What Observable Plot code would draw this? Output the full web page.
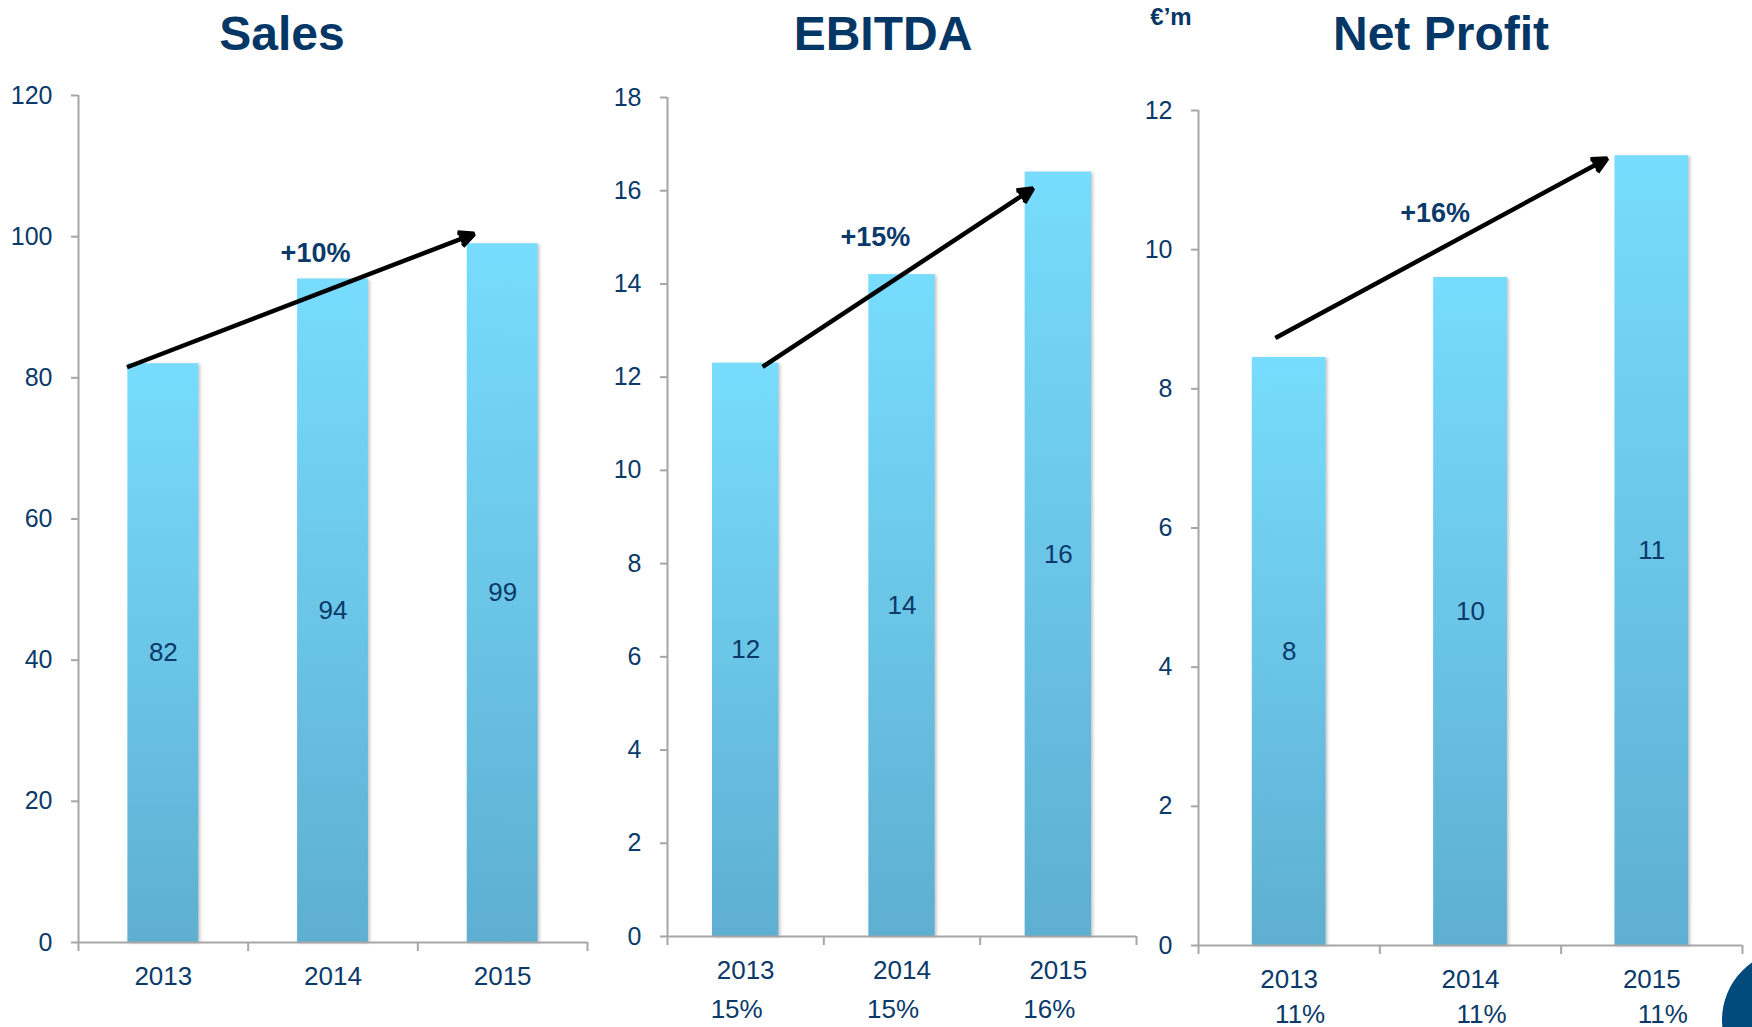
<!DOCTYPE html>
<html>
<head>
<meta charset="utf-8">
<script src="https://cdn.jsdelivr.net/npm/d3@7"></script>
<script src="https://cdn.jsdelivr.net/npm/@observablehq/plot@0.6"></script>
<style>
  html, body { margin: 0; padding: 0; background: #ffffff; }
  body { width: 1752px; height: 1027px; position: relative; overflow: hidden;
         font-family: "Liberation Sans", Arial, sans-serif; }
  .title { position: absolute; font-weight: bold; font-size: 48px; color: #053766;
           transform: translate(-50%, -50%); white-space: nowrap; line-height: 1; }
  .unit { position: absolute; font-weight: bold; font-size: 24px; color: #053766;
          transform: translate(-50%, -50%); white-space: nowrap; line-height: 1; }
  .panel { position: absolute; }
  .panel svg { overflow: visible; background: transparent; max-width: none; }
  .panel g[aria-label="y-axis tick"], .panel g[aria-label="x-axis tick"] { stroke: #a6a6a6; }
  .panel g[aria-label="rect"] rect { filter: drop-shadow(2px 1px 1.5px rgba(0,0,0,0.22)); }
  .logo { position: absolute; left: 1722px; top: 950px; width: 140px; height: 140px;
          border-radius: 50%; background: #034a7c; }
</style>
</head>
<body>
<div id="root"></div>
<script>
// ---------- data ----------
const years = ["2013", "2014", "2015"];
const titles = ["Sales", "EBITDA", "Net Profit"];
const unitLabel = "€’m";

const salesValues = [82, 94, 99];
const ebitdaValues = [12.3, 14.2, 16.4];
const netProfitValues = [8.45, 9.6, 11.35];

const ebitdaMargins = ["15%", "15%", "16%"];
const netProfitMargins = ["11%", "11%", "11%"];

const salesTicks = [0, 20, 40, 60, 80, 100, 120];
const ebitdaTicks = [0, 2, 4, 6, 8, 10, 12, 14, 16, 18];
const netProfitTicks = [0, 2, 4, 6, 8, 10, 12];

const growthLabels = ["+10%", "+15%", "+16%"];
// growth arrows: start/end as (position along year axis, value)
const salesArrow = { x1: 0.286, y1: 81.5, x2: 2.332, y2: 100.4 };
const ebitdaArrow = { x1: 0.608, y1: 12.22, x2: 2.338, y2: 16.05 };
const netProfitArrow = { x1: 0.424, y1: 8.73, x2: 2.254, y2: 11.31 };
// growth label anchors (position along year axis, value)
const salesGrowthAt = { x: 1.397, y: 97.7 };
const ebitdaGrowthAt = { x: 1.330, y: 15.0 };
const netProfitGrowthAt = { x: 1.305, y: 10.52 };

// ---------- styles / layout ----------
const NAVY = "#0b3a6a";
const GRAY = "#a6a6a6";
const FONT = "'Liberation Sans', Arial, sans-serif";

function makePanel(cfg) {
  const rows = years.map((year, i) => ({ i, year, value: cfg.values[i], margin: cfg.margins ? cfg.margins[i] : null }));
  const bounds = d3.range(years.length + 1);
  const marks = [
    Plot.rectY(rows, {
      x1: d => d.i, x2: d => d.i + 1, y: "value",
      insetLeft: cfg.inset, insetRight: cfg.inset,
      fill: `url(#${cfg.gradId})`
    }),
    Plot.ruleX([0], { stroke: GRAY, strokeWidth: 2 }),
    Plot.ruleY([0], { stroke: GRAY, strokeWidth: 2 }),
    Plot.axisY(cfg.ticks, { tickSize: 7, tickPadding: 19, fontSize: 25, color: NAVY, strokeWidth: 2,
                            tickFormat: d => String(d) }),
    Plot.axisX(bounds, { tickSize: 9, tickFormat: () => "", color: GRAY, strokeWidth: 2 }),
    Plot.text(rows, {
      x: d => d.i + 0.5, y: d => d.value / 2, text: d => String(Math.round(d.value)),
      fontSize: 26, fill: NAVY
    }),
    Plot.text(rows, {
      x: d => d.i + 0.5, frameAnchor: "bottom", lineAnchor: "middle", dy: cfg.yearDy, text: "year",
      fontSize: 26, fill: NAVY
    })
  ];
  if (cfg.margins) {
    marks.push(Plot.text(rows, {
      x: d => d.i + 0.5, frameAnchor: "bottom", lineAnchor: "middle", dy: cfg.pctDy, dx: cfg.pctDx,
      text: "margin", fontSize: 26, fill: NAVY
    }));
  }
  marks.push(
    Plot.arrow([cfg.arrow], {
      x1: "x1", y1: "y1", x2: "x2", y2: "y2",
      stroke: "black", strokeWidth: 4.5, headLength: 5.6, headAngle: 52,
      strokeLinecap: "butt", strokeLinejoin: "miter"
    }),
    Plot.text([{ ...cfg.growthAt, label: cfg.growth }], {
      x: "x", y: "y", text: "label", fontSize: 27, fontWeight: "bold", fill: NAVY
    })
  );

  const svg = Plot.plot({
    width: cfg.width, height: cfg.height,
    marginLeft: 80, marginRight: 10, marginTop: 20, marginBottom: 85,
    x: { domain: [0, years.length] },
    y: { domain: [0, cfg.ticks[cfg.ticks.length - 1]] },
    style: { background: "transparent", overflow: "visible", fontFamily: FONT },
    marks
  });

  const defs = document.createElementNS("http://www.w3.org/2000/svg", "defs");
  defs.innerHTML = `<linearGradient id="${cfg.gradId}" x1="0" y1="0" x2="0" y2="1">
      <stop offset="0" stop-color="#77dcfd"/><stop offset="1" stop-color="#5eafd1"/></linearGradient>`;
  svg.insertBefore(defs, svg.firstChild);
  svg.querySelectorAll('g[aria-label="arrow"] path').forEach(p => p.setAttribute("fill", "black"));

  const wrap = document.createElement("div");
  wrap.className = "panel";
  wrap.style.left = cfg.left + "px";
  wrap.style.top = cfg.top + "px";
  wrap.appendChild(svg);
  document.getElementById("root").appendChild(wrap);
}

function addText(cls, text, x, y) {
  const d = document.createElement("div");
  d.className = cls;
  d.textContent = text;
  d.style.left = x + "px";
  d.style.top = y + "px";
  document.body.appendChild(d);
}

makePanel({
  values: salesValues, ticks: salesTicks, margins: null,
  arrow: salesArrow, growth: growthLabels[0], growthAt: salesGrowthAt,
  left: -2, top: 75, width: 599, height: 952, inset: 49.4,
  yearDy: 34.5, gradId: "gradSales"
});
makePanel({
  values: ebitdaValues, ticks: ebitdaTicks, margins: ebitdaMargins,
  arrow: ebitdaArrow, growth: growthLabels[1], growthAt: ebitdaGrowthAt,
  left: 587, top: 77, width: 559, height: 944, inset: 45,
  yearDy: 34, pctDy: 73, pctDx: -9, gradId: "gradEbitda"
});
makePanel({
  values: netProfitValues, ticks: netProfitTicks, margins: netProfitMargins,
  arrow: netProfitArrow, growth: growthLabels[2], growthAt: netProfitGrowthAt,
  left: 1118, top: 89.5, width: 634, height: 940, inset: 53.8,
  yearDy: 34, pctDy: 69.5, pctDx: 11, gradId: "gradNet"
});

addText("title", titles[0], 282, 34);
addText("title", titles[1], 883, 34);
addText("title", titles[2], 1441, 34);
addText("unit", unitLabel, 1171, 17);

const logo = document.createElement("div");
logo.className = "logo";
document.body.appendChild(logo);
</script>
</body>
</html>
